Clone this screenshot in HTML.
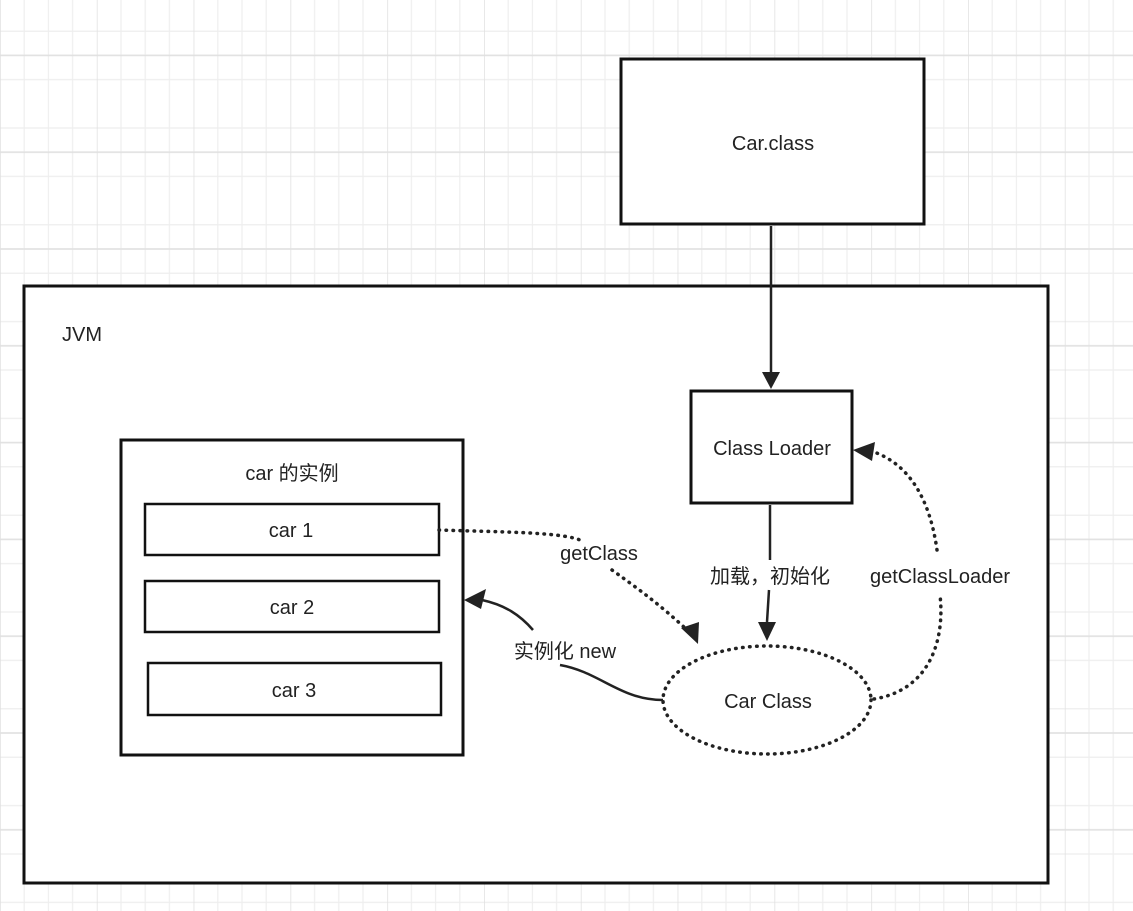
<!DOCTYPE html>
<html><head><meta charset="utf-8"><style>
html,body{margin:0;padding:0;background:#fff;}
svg{display:block;font-family:"Liberation Sans","Noto Sans CJK SC",sans-serif;}
</style></head><body>
<svg width="1133" height="911" viewBox="0 0 1133 911" xmlns="http://www.w3.org/2000/svg">
<defs>
<pattern id="g" x="0" y="7" width="96.8" height="96.8" patternUnits="userSpaceOnUse">
<path d="M24.2 0V96.8M48.4 0V96.8M72.6 0V96.8M0 24.2H96.8M0 48.4H96.8M0 72.6H96.8" stroke="#eeeeee" stroke-width="1.2" fill="none"/>
<path d="M0 0V96.8M0 48.4H96.8" stroke="#e0e0e0" stroke-width="1.5" fill="none"/>
</pattern>
</defs>
<rect width="1133" height="911" fill="#fff"/>
<rect width="1133" height="911" fill="url(#g)"/>
<g fill="#fff" stroke="#111" stroke-width="3">
<rect x="621" y="59" width="303" height="165"/>
<rect x="24" y="286" width="1024" height="597"/>
<rect x="691" y="391" width="161" height="112"/>
<rect x="121" y="440" width="342" height="315"/>
<rect x="145" y="504" width="294" height="51" stroke-width="2.5"/>
<rect x="145" y="581" width="294" height="51" stroke-width="2.5"/>
<rect x="148" y="663" width="293" height="52" stroke-width="2.5"/>
</g>
<ellipse cx="767" cy="700" rx="104" ry="54" fill="none" stroke="#222" stroke-width="3.5" stroke-dasharray="0.5 6.5" stroke-linecap="round"/>
<g fill="none" stroke="#222" stroke-width="2.5">
<path d="M771 226V372"/>
<path d="M762 372h18l-9 17z" fill="#222" stroke="none"/>
<path d="M770 505V560M769 590L767 622"/>
<path d="M758 622h18l-9 19z" fill="#222" stroke="none"/>
<path d="M663 700C620 700 600 672 560 665"/>
<path d="M533 630C520 615 505 605 482 600"/>
<path d="M464 600L486 589L481 609z" fill="#222" stroke="none"/>
<g stroke-dasharray="0.5 6.5" stroke-linecap="round" stroke-width="3.5">
<path d="M439 530C500 532 560 532 580 540"/>
<path d="M612 570C640 590 660 605 685 628"/>
<path d="M874 699C930 690 945 640 940 595M937 550C930 500 910 465 874 452"/>
</g>
<path d="M681 628l18 -6l-1 22z" fill="#222" stroke="none"/>
<path d="M853 450l22-8l-3 19z" fill="#222" stroke="none"/>
</g>
<g font-size="20" fill="#222" text-anchor="middle">
<text x="773" y="150">Car.class</text>
<text x="772" y="455">Class Loader</text>
<text x="292" y="480">car 的实例</text>
<text x="291" y="537">car 1</text>
<text x="292" y="614">car 2</text>
<text x="294" y="697">car 3</text>
<text x="768" y="708">Car Class</text>
<text x="599" y="560">getClass</text>
<text x="770" y="583">加载，初始化</text>
<text x="940" y="583">getClassLoader</text>
<text x="565" y="658">实例化 new</text>
<text x="82" y="341">JVM</text>
</g>
</svg>
</body></html>
